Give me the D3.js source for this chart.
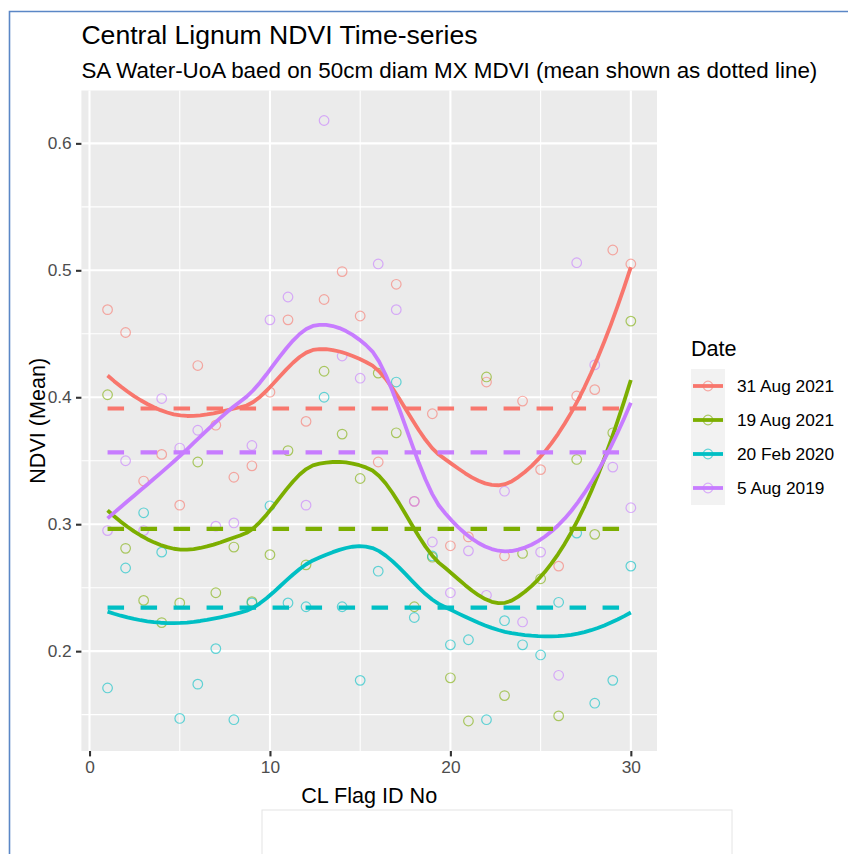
<!DOCTYPE html>
<html>
<head>
<meta charset="utf-8">
<script src="https://cdn.jsdelivr.net/npm/d3@7"></script>
<style>
  html, body { margin: 0; padding: 0; background: #ffffff; }
  svg { display: block; }
  text { font-family: "Liberation Sans", Arial, Helvetica, sans-serif; }
</style>
</head>
<body>
<svg id="chart" width="848" height="854"></svg>
<script>
// Flag identifiers along the transect
const flagIds = [1, 2, 3, 4, 5, 6, 7, 8, 9, 10, 11, 12, 13, 14, 15,
                 16, 17, 18, 19, 20, 21, 22, 23, 24, 25, 26, 27, 28, 29, 30];

// Survey dates (legend order)
const dates = ["31 Aug 2021", "19 Aug 2021", "20 Feb 2020", "5 Aug 2019"];

// Mean NDVI per flag for each survey
const ndvi31Aug2021 = [0.469, 0.451, 0.334, 0.355, 0.315, 0.425, 0.378, 0.337, 0.346, 0.404,
                       0.461, 0.381, 0.477, 0.499, 0.464, 0.349, 0.489, 0.318, 0.387, 0.283,
                       0.290, 0.412, 0.275, 0.397, 0.343, 0.267, 0.401, 0.406, 0.516, 0.505];
const ndvi19Aug2021 = [0.402, 0.281, 0.240, 0.2225, 0.238, 0.349, 0.246, 0.282, 0.239, 0.276,
                       0.358, 0.268, 0.4205, 0.371, 0.336, 0.419, 0.372, 0.235, 0.274, 0.179,
                       0.145, 0.416, 0.165, 0.277, 0.257, 0.149, 0.351, 0.292, 0.372, 0.460];
const ndvi20Feb2020 = [0.171, 0.2655, 0.309, 0.278, 0.147, 0.174, 0.202, 0.146, 0.238, 0.3145,
                       0.238, 0.235, 0.400, 0.235, 0.177, 0.263, 0.412, 0.2265, 0.275, 0.205,
                       0.209, 0.146, 0.224, 0.205, 0.197, 0.2385, 0.293, 0.159, 0.177, 0.267];
const ndvi5Aug2019 = [0.295, 0.350, 0.295, 0.399, 0.360, 0.374, 0.2985, 0.301, 0.362, 0.461,
                      0.479, 0.315, 0.618, 0.4325, 0.415, 0.505, 0.469, 0.318, 0.286, 0.246,
                      0.279, 0.244, 0.326, 0.223, 0.278, 0.181, 0.506, 0.4255, 0.345, 0.313];

const xTicks = [0, 10, 20, 30];
const yTicks = [0.2, 0.3, 0.4, 0.5, 0.6];
const colors = ["#F8766D", "#7CAE00", "#00BFC4", "#C77CFF"];

const seriesValues = [ndvi31Aug2021, ndvi19Aug2021, ndvi20Feb2020, ndvi5Aug2019];
const series = dates.map((d, i) => ({
  date: d,
  color: colors[i],
  points: flagIds.map((id, j) => ({ x: id, y: seriesValues[i][j] }))
}));

// Local quadratic fit at x0 (tricube weights); returns level and slope
function localFit(xs, ys, q, x0) {
  const n = xs.length;
  const d = xs.map(x => Math.abs(x - x0));
  const h = d.slice().sort((a, b) => a - b)[q - 1];
  const s = [0, 0, 0, 0, 0], t = [0, 0, 0];
  for (let i = 0; i < n; i++) {
    const u = d[i] / h;
    if (u >= 1) continue;
    const w = Math.pow(1 - u * u * u, 3);
    const dx = xs[i] - x0;
    let p = w;
    for (let k = 0; k < 5; k++) { s[k] += p; if (k < 3) t[k] += p * ys[i]; p *= dx; }
  }
  const A = [[s[0], s[1], s[2]], [s[1], s[2], s[3]], [s[2], s[3], s[4]]];
  const det = m => m[0][0] * (m[1][1] * m[2][2] - m[1][2] * m[2][1])
                 - m[0][1] * (m[1][0] * m[2][2] - m[1][2] * m[2][0])
                 + m[0][2] * (m[1][0] * m[2][1] - m[1][1] * m[2][0]);
  const D = det(A);
  const b0 = det(A.map((r, i) => [t[i], r[1], r[2]])) / D;
  const b1 = det(A.map((r, i) => [r[0], t[i], r[2]])) / D;
  return { level: b0, slope: b1 };
}

// Loess (span 0.75, degree 2) evaluated on kd-tree vertices with cubic Hermite interpolation
function loess(xs, ys, span, xq) {
  const n = xs.length, q = Math.floor(n * span);
  const fc = Math.floor(n * span * 0.2);
  const sx = xs.slice().sort((a, b) => a - b);
  const lo = sx[0], hi = sx[n - 1];
  const mu = 0.005 * (hi - lo);
  const verts = [lo - mu, hi + mu];
  (function split(l, u) {
    if (u - l + 1 <= fc) return;
    const m = Math.floor((l + u + 2) / 2) - 1;
    verts.push((sx[m] + sx[m + 1]) / 2);
    split(l, m); split(m + 1, u);
  })(0, n - 1);
  verts.sort((a, b) => a - b);
  const fits = verts.map(v => localFit(xs, ys, q, v));
  return xq.map(x0 => {
    let j = 0;
    while (j < verts.length - 2 && x0 > verts[j + 1]) j++;
    const h = verts[j + 1] - verts[j];
    const t = (x0 - verts[j]) / h;
    const h00 = 2 * t * t * t - 3 * t * t + 1, h10 = t * t * t - 2 * t * t + t;
    const h01 = -2 * t * t * t + 3 * t * t, h11 = t * t * t - t * t;
    const a = fits[j], b = fits[j + 1];
    return { x: x0, y: h00 * a.level + h10 * h * a.slope + h01 * b.level + h11 * h * b.slope };
  });
}

const svg = d3.select("#chart");
const W = 848, H = 854;
svg.append("rect").attr("width", W).attr("height", H).attr("fill", "#ffffff");

const panel = { left: 81.4, right: 657, top: 90.5, bottom: 751 };

const allY = seriesValues.flat();
const xMin = d3.min(flagIds), xMax = d3.max(flagIds);
const yMin = d3.min(allY), yMax = d3.max(allY);
const xPad = (xMax - xMin) * 0.05, yPad = (yMax - yMin) * 0.05;

const x = d3.scaleLinear().domain([xMin - xPad, xMax + xPad]).range([panel.left, panel.right]);
const y = d3.scaleLinear().domain([yMin - yPad, yMax + yPad]).range([panel.bottom, panel.top]);

// Panel background and grid
svg.append("rect")
  .attr("x", panel.left).attr("y", panel.top)
  .attr("width", panel.right - panel.left).attr("height", panel.bottom - panel.top)
  .attr("fill", "#EBEBEB");

const grid = svg.append("g");
const xMinor = [5, 15, 25];
const yMinor = [0.15, 0.25, 0.35, 0.45, 0.55];
grid.selectAll(".xminor").data(xMinor).join("line")
  .attr("x1", d => x(d)).attr("x2", d => x(d))
  .attr("y1", panel.top).attr("y2", panel.bottom)
  .attr("stroke", "#ffffff").attr("stroke-width", 1.1);
grid.selectAll(".yminor").data(yMinor).join("line")
  .attr("y1", d => y(d)).attr("y2", d => y(d))
  .attr("x1", panel.left).attr("x2", panel.right)
  .attr("stroke", "#ffffff").attr("stroke-width", 1.1);
grid.selectAll(".xmajor").data(xTicks).join("line")
  .attr("x1", d => x(d)).attr("x2", d => x(d))
  .attr("y1", panel.top).attr("y2", panel.bottom)
  .attr("stroke", "#ffffff").attr("stroke-width", 2.1);
grid.selectAll(".ymajor").data(yTicks).join("line")
  .attr("y1", d => y(d)).attr("y2", d => y(d))
  .attr("x1", panel.left).attr("x2", panel.right)
  .attr("stroke", "#ffffff").attr("stroke-width", 2.1);

// Axes
const xAxis = d3.axisBottom(x).tickValues(xTicks).tickFormat(d3.format("d"))
  .tickSizeInner(5.4).tickSizeOuter(0).tickPadding(4.3);
const yAxis = d3.axisLeft(y).tickValues(yTicks).tickFormat(d3.format(".1f"))
  .tickSizeInner(5.4).tickSizeOuter(0).tickPadding(4.3);

const gx = svg.append("g").attr("transform", `translate(0,${panel.bottom})`).call(xAxis);
const gy = svg.append("g").attr("transform", `translate(${panel.left},0)`).call(yAxis);
[gx, gy].forEach(g => {
  g.select(".domain").remove();
  g.selectAll(".tick line").attr("stroke", "#333333").attr("stroke-width", 2.1);
  g.selectAll(".tick text").attr("fill", "#4D4D4D")
    .style("font-family", '"Liberation Sans", Arial, sans-serif').style("font-size", "17.3px");
});

const plot = svg.append("g");

// Observations
series.forEach(s => {
  plot.append("g").selectAll("circle").data(s.points).join("circle")
    .attr("cx", d => x(d.x)).attr("cy", d => y(d.y)).attr("r", 4.8)
    .attr("fill", "none").attr("stroke", s.color)
    .attr("stroke-width", 1.2).attr("stroke-opacity", 0.6);
});

// Smoothed trends
const xGrid = d3.range(80).map(i => xMin + (xMax - xMin) * i / 79);
const line = d3.line().x(d => x(d.x)).y(d => y(d.y)).curve(d3.curveLinear);
series.forEach(s => {
  const fit = loess(flagIds, s.points.map(p => p.y), 0.75, xGrid);
  plot.append("path").datum(fit).attr("d", line)
    .attr("fill", "none").attr("stroke", s.color).attr("stroke-width", 3.8)
    .attr("stroke-linejoin", "round");
});

// Survey means as dashed lines
series.forEach(s => {
  const m = d3.mean(s.points, p => p.y);
  plot.append("path").datum([{ x: xMin, y: m }, { x: xMax, y: m }]).attr("d", line)
    .attr("fill", "none").attr("stroke", s.color).attr("stroke-width", 4.2)
    .attr("stroke-dasharray", "16.5,16.5");
});

// Titles
svg.append("text").attr("x", panel.left).attr("y", 44)
  .attr("font-size", 26.6).attr("fill", "#000")
  .text("Central Lignum NDVI Time-series");
svg.append("text").attr("x", panel.left).attr("y", 78)
  .attr("font-size", 22.4).attr("fill", "#000")
  .text("SA Water-UoA baed on 50cm diam MX MDVI (mean shown as dotted line)");

svg.append("text")
  .attr("x", (panel.left + panel.right) / 2).attr("y", 803)
  .attr("text-anchor", "middle").attr("font-size", 21.6).attr("fill", "#000")
  .text("CL Flag ID No");
svg.append("text")
  .attr("transform", `translate(45,${(panel.top + panel.bottom) / 2}) rotate(-90)`)
  .attr("text-anchor", "middle").attr("font-size", 21.6).attr("fill", "#000")
  .text("NDVI (Mean)");

// Legend
const legend = svg.append("g").attr("transform", "translate(691,0)");
legend.append("text").attr("x", 0).attr("y", 356).attr("font-size", 21.6).attr("fill", "#000").text("Date");
const keySize = 34;
const keyTop = 369;
series.forEach((s, i) => {
  const ky = keyTop + i * keySize;
  legend.append("rect").attr("x", 0).attr("y", ky).attr("width", keySize).attr("height", keySize)
    .attr("fill", "#F2F2F2");
  legend.append("line").attr("x1", 2).attr("x2", keySize - 2)
    .attr("y1", ky + keySize / 2).attr("y2", ky + keySize / 2)
    .attr("stroke", s.color).attr("stroke-width", 3.8);
  legend.append("circle").attr("cx", keySize / 2).attr("cy", ky + keySize / 2).attr("r", 4.8)
    .attr("fill", "none").attr("stroke", s.color).attr("stroke-width", 1.2).attr("stroke-opacity", 0.6);
  legend.append("text").attr("x", 46).attr("y", ky + keySize / 2)
    .attr("dominant-baseline", "central").attr("font-size", 17.3).attr("fill", "#000")
    .text(s.date);
});

// Page frame and caption box
svg.append("rect").attr("x", 262).attr("y", 810).attr("width", 470).attr("height", 60)
  .attr("fill", "#ffffff").attr("stroke", "#E4E4E4").attr("stroke-width", 1);
svg.append("path").attr("d", `M9.5,${H} V11.5 H${W}`)
  .attr("fill", "none").attr("stroke", "#5B87C6").attr("stroke-width", 1.6);
</script>
</body>
</html>
